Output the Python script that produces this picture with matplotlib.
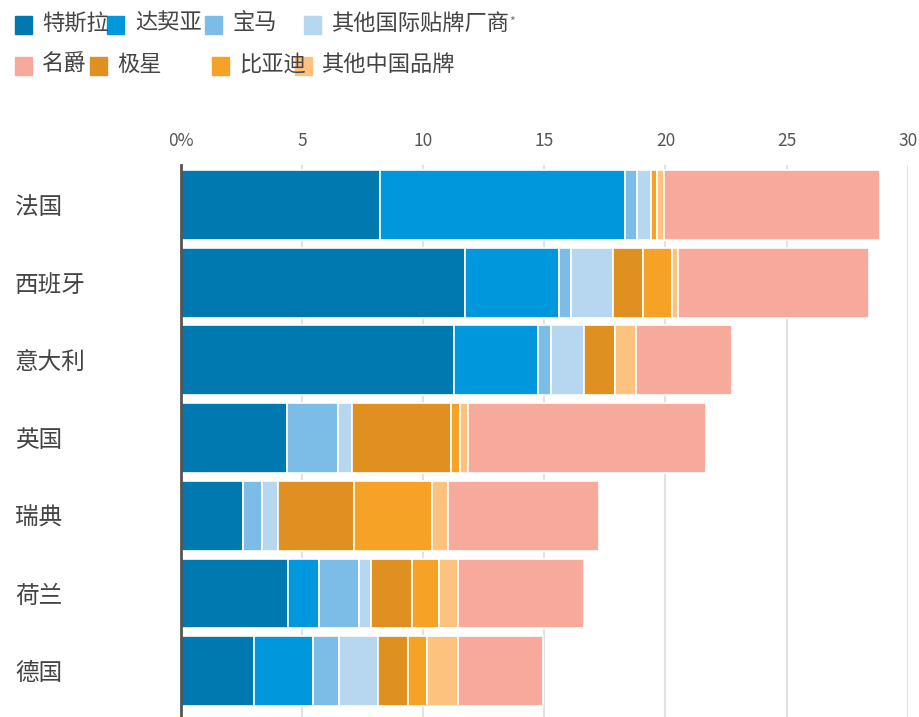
import matplotlib.pyplot as plt
from matplotlib.patches import Rectangle

plt.rcParams['font.family'] = ['Noto Sans CJK SC', 'DejaVu Sans']

countries = ['法国', '西班牙', '意大利', '英国', '瑞典', '荷兰', '德国']

# market share (%) per brand, stacked left to right
tesla = [8.22, 11.73, 11.27, 4.36, 2.57, 4.43, 3.01]
dacia = [10.11, 3.88, 3.48, 0.0, 0.0, 1.28, 2.43]
bmw = [0.48, 0.49, 0.51, 2.14, 0.79, 1.64, 1.08]
other_intl = [0.58, 1.72, 1.38, 0.55, 0.63, 0.48, 1.60]
polestar = [0.0, 1.27, 1.28, 4.10, 3.15, 1.69, 1.24]
byd = [0.25, 1.20, 0.0, 0.37, 3.21, 1.12, 0.78]
other_cn = [0.29, 0.24, 0.87, 0.32, 0.69, 0.80, 1.30]
mg = [8.93, 7.89, 3.97, 9.84, 6.22, 5.20, 3.52]

series = [
    ('特斯拉', tesla, '#0079b1'),
    ('达契亚', dacia, '#0097dc'),
    ('宝马', bmw, '#7bbde6'),
    ('其他国际贴牌厂商', other_intl, '#b6d7ef'),
    ('极星', polestar, '#e09021'),
    ('比亚迪', byd, '#f6a226'),
    ('其他中国品牌', other_cn, '#fdc27d'),
    ('名爵', mg, '#f7a99b'),
]
colors = {name: c for name, _, c in series}

W, H = 920, 717
fig = plt.figure(figsize=(W / 100, H / 100), dpi=100)
ax = fig.add_axes([181 / W, 0, (907.7 - 181) / W, (H - 165) / H])

ypos = list(range(len(countries)))
left = [0.0] * len(countries)
for name, vals, color in series:
    ax.barh(ypos, vals, left=left, height=0.9, color=color,
            edgecolor='white', linewidth=1.2, zorder=2)
    left = [l + v for l, v in zip(left, vals)]

ax.set_xlim(0, 30)
ax.set_ylim(6.59, -0.515)
ax.set_xticks([0, 5, 10, 15, 20, 25, 30])
ax.set_xticklabels(['0%', '5', '10', '15', '20', '25', '30'])
ax.xaxis.tick_top()
ax.tick_params(axis='x', length=0, pad=11, labelsize=12.5, labelcolor='#555555')
ax.set_yticks(ypos)
ax.set_yticklabels(countries)
ax.tick_params(axis='y', length=0, pad=0, labelsize=17, labelcolor='#444444')
for lbl in ax.get_yticklabels():
    lbl.set_horizontalalignment('left')
    lbl.set_x(-166 / (907.7 - 181))

ax.grid(axis='x', color='#e2e2e2', linewidth=1.5, zorder=0)
ax.set_axisbelow(True)
for s in ['top', 'right', 'bottom']:
    ax.spines[s].set_visible(False)
ax.spines['left'].set_color('#555555')
ax.spines['left'].set_linewidth(2)
ax.spines['left'].set_zorder(3)

# legend, laid out as in the original
legend_items = [
    ('特斯拉', 15, 42, 25), ('达契亚', 107, 135, 25), ('宝马', 205, 233, 25),
    ('其他国际贴牌厂商', 304, 331, 25),
    ('名爵', 15, 42, 66), ('极星', 90, 117, 66), ('比亚迪', 212, 239, 66),
    ('其他中国品牌', 295, 321, 66),
]
for name, sx, tx, cy in legend_items:
    fig.patches.append(Rectangle((sx / W, 1 - (cy + 9) / H), 17 / W, 18 / H,
                                 transform=fig.transFigure, color=colors[name],
                                 zorder=1))
    fig.text(tx / W, 1 - (cy - 2) / H, name, fontsize=16, color='#444444',
             va='center', ha='left', zorder=2)
fig.text(509 / W, 1 - 22 / H, '*', fontsize=9, color='#777777',
         va='center', ha='left')

fig.savefig('out.png', dpi=100)
